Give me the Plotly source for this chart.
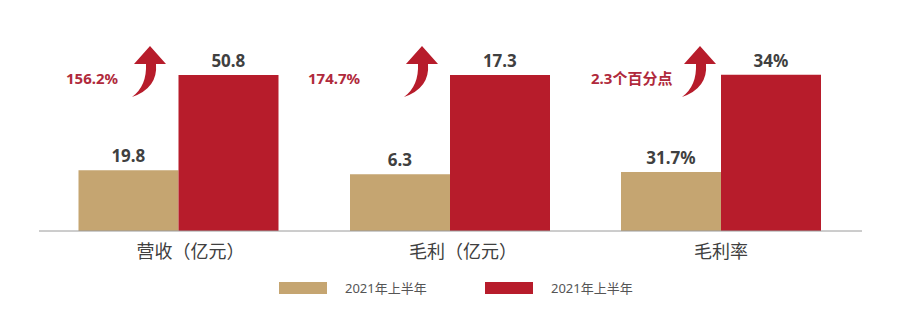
import plotly.graph_objects as go

# ---- data ----
groups = ["营收（亿元）", "毛利（亿元）", "毛利率"]
series_names = ["2021年上半年", "2021年上半年"]
prev_values = [19.8, 6.3, 31.7]
curr_values = [50.8, 17.3, 34.0]
value_suffix = ["", "", "%"]
growth_labels = ["156.2%", "174.7%", "2.3个百分点"]

# ---- styling ----
W, H = 900, 329
TAN = "#C5A571"
RED = "#B71C2B"
LABEL_RED = "#B02A3C"
TEXT = "#404040"
CJK = "Noto Sans CJK SC"
FONT = "Noto Sans, Noto Sans CJK SC"

group_centers_px = [178.5, 450, 721]
label_shift_px = [12, 13, 0]
group_half_px = 135.5
bar_pair_px = 200
base_px, top_px = 231, 20
# each panel has its own value scale
y_ranges = [[0, 68.7], [0, 23.4], [30.3, 35.3]]


def px_x(x):
    return x / W


def px_y(y):
    return 1 - y / H


fig = go.Figure()

for i, g in enumerate(groups):
    ax = "" if i == 0 else str(i + 1)
    suf = value_suffix[i]
    for name, val, col in ((series_names[0], prev_values[i], TAN),
                           (series_names[1], curr_values[i], RED)):
        fig.add_trace(go.Bar(
            x=[g], y=[val], name=name,
            marker=dict(color=col, line=dict(width=0)),
            text=[f"{val:g}{suf}"], textposition="outside",
            outsidetextfont=dict(family=FONT, size=17, color=TEXT, weight="bold"),
            cliponaxis=False,
            xaxis="x" + ax, yaxis="y" + ax, showlegend=False,
            offsetgroup=name + str(col),
        ))
    c = group_centers_px[i]
    dom = [px_x(c - group_half_px), px_x(c + group_half_px)]
    fig.layout["xaxis" + ax] = dict(
        domain=dom, anchor="y" + ax, showline=False, showgrid=False,
        zeroline=False, ticks="", automargin=False, fixedrange=True,
        tickfont=dict(family=CJK, size=18, color=TEXT),
        ticklabelstandoff=8, ticklabelshift=label_shift_px[i],
    )
    fig.layout["yaxis" + ax] = dict(
        domain=[px_y(base_px), px_y(top_px)], anchor="x" + ax,
        range=y_ranges[i], visible=False, automargin=False, fixedrange=True,
    )

shapes = []
# baseline across all panels
shapes.append(dict(type="line", xref="paper", yref="paper",
                   x0=px_x(39), x1=px_x(862), y0=px_y(base_px), y1=px_y(base_px),
                   line=dict(color="#9a9a9a", width=1)))

# curved up-arrows beside each pair
arrow_tips = [150, 422, 700]
for tx in arrow_tips:
    pts = lambda dx, dy: f"{px_x(tx + dx):.5f},{px_y(dy):.5f}"
    path = (f"M {pts(-18, 97)} "
            f"Q {pts(-3, 86)} {pts(-4, 64)} "
            f"L {pts(-16, 64)} L {pts(0, 46)} L {pts(16, 64)} L {pts(6, 64)} "
            f"Q {pts(8, 88)} {pts(-18, 97)} Z")
    shapes.append(dict(type="path", xref="paper", yref="paper", path=path,
                       fillcolor=RED, line=dict(width=0)))

annotations = []
growth_x_px = [92, 334, 631]
for gx, gl in zip(growth_x_px, growth_labels):
    annotations.append(dict(
        x=px_x(gx), y=px_y(78), xref="paper", yref="paper", text=gl,
        showarrow=False, xanchor="center", yanchor="middle",
        font=dict(family=FONT, size=15, color=LABEL_RED, weight="bold"),
    ))

# legend
legend_items = [(279, TAN, series_names[0]), (485, RED, series_names[1])]
for lx, col, name in legend_items:
    shapes.append(dict(type="rect", xref="paper", yref="paper",
                       x0=px_x(lx), x1=px_x(lx + 48), y0=px_y(294), y1=px_y(282),
                       fillcolor=col, line=dict(width=0)))
    annotations.append(dict(
        x=px_x(lx + 64), y=px_y(288), xref="paper", yref="paper", text=name,
        showarrow=False, xanchor="left", yanchor="middle",
        font=dict(family=FONT, size=13, color="#555555"),
    ))

fig.update_layout(
    width=W, height=H, template="none",
    margin=dict(l=0, r=0, t=0, b=0),
    paper_bgcolor="white", plot_bgcolor="rgba(0,0,0,0)",
    barmode="group", bargap=1 - bar_pair_px / (2 * group_half_px), bargroupgap=0,
    shapes=shapes, annotations=annotations, showlegend=False,
    font=dict(family=FONT),
)

fig.write_html("out.html", config={"displayModeBar": False})
